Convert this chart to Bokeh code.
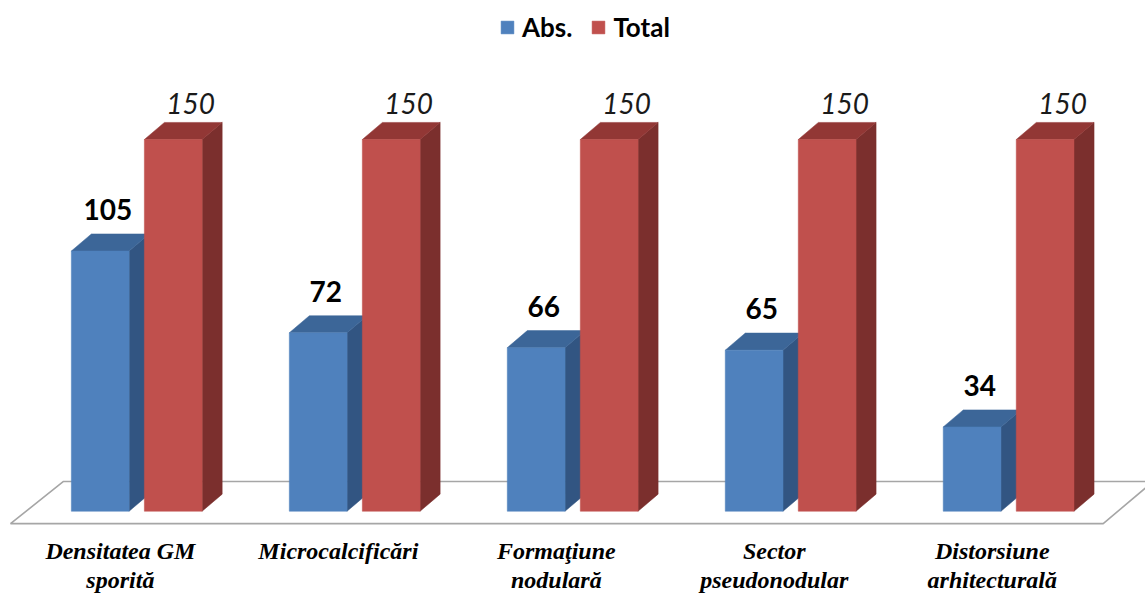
import numpy as np
from bokeh.plotting import figure
from bokeh.models import Range1d, Legend, LegendItem
from bokeh.core.properties import value
from bokeh.embed import file_html
from bokeh.resources import INLINE

# ---- data ----
categories = ["Densitatea GM\nsporită", "Microcalcificări", "Formaţiune\nnodulară",
              "Sector\npseudonodular", "Distorsiune\narhitecturală"]
abs_values = [105, 72, 66, 65, 34]
total_values = [150, 150, 150, 150, 150]
series_names = ["Abs.", "Total"]

# ---- styling / geometry ----
BAR_W = 0.265
GAP = 0.035
DX = 0.092      # 3D depth in x (category units)
DY = 6.9        # 3D depth in y (value units)

colors = {
    "Abs.": ("#4f81bd", "#3c6698", "#325582"),
    "Total": ("#c0504d", "#923735", "#7b2f2d"),
}

W, H = 1145, 594
p = figure(width=W, height=H, output_backend="svg", toolbar_location=None,
           x_range=Range1d(-0.625, 4.628), y_range=Range1d(-33.6, 206.1),
           min_border=0, outline_line_color=None)
p.xaxis.visible = False
p.yaxis.visible = False
p.grid.visible = False
p.background_fill_color = "white"
p.border_fill_color = "white"

n = len(categories)
idx = np.arange(n, dtype=float)

# floor (parallelogram)
fy0, fy1 = -5.0, 12.0
fl_front = (-0.579, (n - 1) + 0.434)
fl_back = (-0.336, (n - 1) + 0.663)
p.patch([fl_front[0], fl_front[1], fl_back[1], fl_back[0]], [fy0, fy0, fy1, fy1],
        fill_color="white", line_color="#a6a6a6", line_width=1.6)

renderers = {}
for name, vals, off in [("Abs.", abs_values, -GAP - BAR_W), ("Total", total_values, GAP)]:
    v = np.array(vals, dtype=float)
    left = idx + off
    right = left + BAR_W
    front, top, side = colors[name]
    xs_side = [[r, r + DX, r + DX, r] for r in right]
    ys_side = [[0, DY, h + DY, h] for h in v]
    p.patches(xs_side, ys_side, fill_color=side, line_color=side, line_width=0.5)
    xs_top = [[l, l + DX, r + DX, r] for l, r in zip(left, right)]
    ys_top = [[h, h + DY, h + DY, h] for h in v]
    p.patches(xs_top, ys_top, fill_color=top, line_color=top, line_width=0.5)
    r = p.quad(left=left, right=right, bottom=0, top=v, fill_color=front,
               line_color=front, line_width=0.5)
    renderers[name] = r

# value labels
p.text(x=idx - GAP - BAR_W / 2 + 0.035, y=np.array(abs_values) + 16.8,
       text=[str(v) for v in abs_values], text_font=value("Lato"),
       text_font_style="bold", text_font_size="28px", text_color="black",
       text_align="center", text_baseline="middle")
p.text(x=idx + GAP + BAR_W / 2 + 0.08, y=np.array(total_values) + 14.5,
       text=[str(v) for v in total_values], text_font=value("Lato"),
       text_font_style="italic", text_font_size="28px", text_color="#1a1a1a",
       text_align="center", text_baseline="middle")

# category labels
p.text(x=idx - 0.075, y=-11.0, text=categories, text_font=value("Liberation Serif"),
       text_font_style="bold italic", text_font_size="24px", text_color="black",
       text_align="center", text_baseline="top", text_line_height=1.08)

legend = Legend(items=[LegendItem(label=nm, renderers=[renderers[nm]]) for nm in series_names],
                orientation="horizontal", location=(499, 551),
                label_text_font="Lato", label_text_font_style="bold",
                label_text_font_size="26px", label_text_color="black",
                glyph_width=16, glyph_height=16, spacing=18, label_standoff=7,
                border_line_color=None, background_fill_alpha=0,
                margin=0, padding=6)
p.add_layout(legend)

open("out.html", "w").write(file_html(p, INLINE))
